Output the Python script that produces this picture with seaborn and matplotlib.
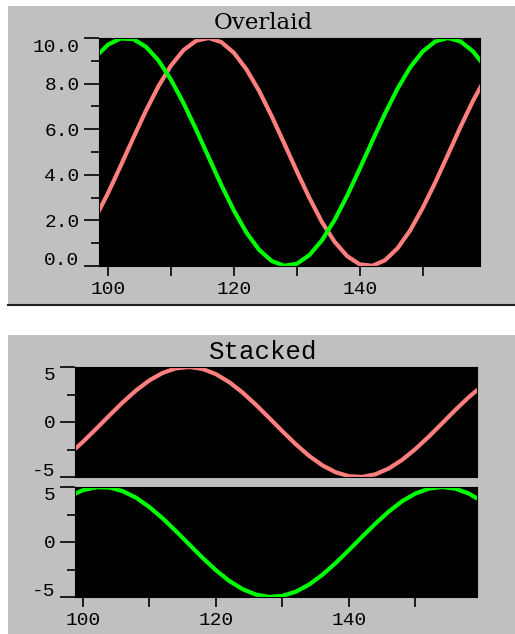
import matplotlib
matplotlib.use("Agg")
import matplotlib.pyplot as plt
from matplotlib.patches import Rectangle
from matplotlib.lines import Line2D
from matplotlib.transforms import ScaledTranslation
import seaborn as sns
import pandas as pd

# ---- data ----
x_vals = [98, 100, 102, 104, 106, 108, 110, 112, 114, 116, 118, 120, 122, 124, 126, 128,
          130, 132, 134, 136, 138, 140, 142, 144, 146, 148, 150, 152, 154, 156, 158, 160]
green_overlaid = [9.16, 9.71, 9.98, 9.95, 9.62, 9.02, 8.17, 7.14, 5.98, 4.76, 3.55, 2.43, 1.46, 0.71, 0.22, 0.01,
                  0.10, 0.48, 1.13, 2.02, 3.09, 4.27, 5.49, 6.68, 7.78, 8.71, 9.41, 9.85, 10.0, 9.85, 9.41, 8.71]
pink_overlaid = [2.12, 3.20, 4.39, 5.61, 6.80, 7.88, 8.79, 9.47, 9.88, 10.0, 9.82, 9.35, 8.62, 7.68, 6.57, 5.37,
                 4.15, 2.98, 1.92, 1.06, 0.43, 0.07, 0.01, 0.25, 0.78, 1.56, 2.55, 3.67, 4.88, 6.10, 7.25, 8.26]
pink_stacked = [-2.88, -1.80, -0.61, 0.61, 1.80, 2.88, 3.79, 4.47, 4.88, 5.0, 4.82, 4.35, 3.62, 2.68, 1.57, 0.37,
                -0.85, -2.02, -3.08, -3.94, -4.57, -4.93, -4.99, -4.75, -4.22, -3.44, -2.45, -1.33, -0.12, 1.10, 2.25, 3.26]
green_stacked = [4.16, 4.71, 4.98, 4.95, 4.62, 4.02, 3.17, 2.14, 0.98, -0.24, -1.45, -2.57, -3.54, -4.29, -4.78, -4.99,
                 -4.90, -4.52, -3.87, -2.98, -1.91, -0.73, 0.49, 1.68, 2.78, 3.71, 4.41, 4.85, 5.0, 4.85, 4.41, 3.71]

overlaid_yticks = [0, 2, 4, 6, 8, 10]
overlaid_yticklabels = ["0.0", "2.0", "4.0", "6.0", "8.0", "10.0"]
overlaid_yminor = [1, 3, 5, 7, 9]
stacked_yticks = [-5, 0, 5]
stacked_yticklabels = ["-5", "0", "5"]
stacked_yminor = [-2.5, 2.5]
xticks_major = [100, 120, 140]
xticklabels = ["100", "120", "140"]
xticks_minor = [110, 130, 150]

GREEN = "#00ff00"
PINK = "#ff7f7f"
GREY = "#c0c0c0"

W, H = 515, 634
fig = plt.figure(figsize=(W / 100, H / 100), dpi=100, facecolor="white")


def fx(px):
    return px / W


def fy(py):
    return 1 - py / H


def panel(top, bottom, left=8, right=515):
    fig.patches.append(Rectangle((fx(left), fy(bottom)), fx(right - left), (bottom - top) / H,
                                 transform=fig.transFigure, facecolor=GREY, edgecolor="none", zorder=-2))
    fig.add_artist(Line2D([fx(left), fx(right)], [fy(bottom), fy(bottom)], transform=fig.transFigure,
                          color="#202020", lw=1.5, zorder=-1))


panel(6, 305)
panel(335, 640)

mono = "Liberation Mono"
TICK_FS = 14


def make_axes(rect_px, xlim, ylim, yt, ytl, ymin, show_xlabels, shift_px):
    left, top, right, bottom = rect_px
    ax = fig.add_axes([fx(left), fy(bottom), fx(right - left), (bottom - top) / H])
    ax.set_zorder(2)
    ax.set_facecolor("black")
    for s in ax.spines.values():
        s.set_color("black")
    ax.set_xlim(*xlim)
    ax.set_ylim(*ylim)
    ax.set_yticks(yt)
    ax.set_yticklabels(ytl, fontfamily=mono, fontsize=TICK_FS)
    ax.set_yticks(ymin, minor=True)
    ax.set_xticks(xticks_major)
    ax.set_xticks(xticks_minor, minor=True)
    if show_xlabels:
        ax.set_xticklabels(xticklabels, fontfamily=mono, fontsize=TICK_FS)
    else:
        ax.set_xticklabels([])
    ax.tick_params(axis="y", which="major", length=11, width=1.2, pad=3, color="black")
    ax.tick_params(axis="y", which="minor", length=5.5, width=1.2, color="black")
    ax.tick_params(axis="x", which="both", length=7.5, width=1.2, pad=3, color="black")
    if not show_xlabels:
        ax.tick_params(axis="x", which="both", length=0)
    ticks = ax.yaxis.get_major_ticks()
    ticks[0].label1.set_transform(ticks[0].label1.get_transform() +
                                  ScaledTranslation(0, shift_px / 100, fig.dpi_scale_trans))
    ticks[-1].label1.set_transform(ticks[-1].label1.get_transform() +
                                   ScaledTranslation(0, -shift_px / 100, fig.dpi_scale_trans))
    return ax


def finish(ax, xlim, ylim):
    ax.set_xlim(*xlim)
    ax.set_ylim(*ylim)
    ax.set_xlabel("")
    ax.set_ylabel("")


# Overlaid
ax1 = make_axes((99, 38, 480, 266), (98.56, 159.1), (0, 10), overlaid_yticks, overlaid_yticklabels,
                overlaid_yminor, True, 8)
df1 = pd.DataFrame({"x": x_vals, "green": green_overlaid, "pink": pink_overlaid})
sns.lineplot(data=df1, x="x", y="pink", ax=ax1, color=PINK, lw=3, legend=False)
sns.lineplot(data=df1, x="x", y="green", ax=ax1, color=GREEN, lw=3, legend=False)
finish(ax1, (98.56, 159.1), (0, 10))
fig.text(fx(263), fy(23), "Overlaid", ha="center", va="center", fontfamily="DejaVu Serif", fontsize=16.5)

# Stacked
df2 = pd.DataFrame({"x": x_vals, "green": green_stacked, "pink": pink_stacked})
ax2 = make_axes((75, 367, 477, 477), (98.8, 159.25), (-5, 5), stacked_yticks, stacked_yticklabels,
                stacked_yminor, False, 7)
sns.lineplot(data=df2, x="x", y="pink", ax=ax2, color=PINK, lw=3, legend=False)
finish(ax2, (98.8, 159.25), (-5, 5))

ax3 = make_axes((75, 487, 477, 597), (98.8, 159.25), (-5, 5), stacked_yticks, stacked_yticklabels,
                stacked_yminor, True, 7)
sns.lineplot(data=df2, x="x", y="green", ax=ax3, color=GREEN, lw=3, legend=False)
finish(ax3, (98.8, 159.25), (-5, 5))
fig.text(fx(263), fy(352), "Stacked", ha="center", va="center", fontfamily=mono, fontsize=18.5)

fig.savefig("out.png", dpi=100, facecolor="white")
